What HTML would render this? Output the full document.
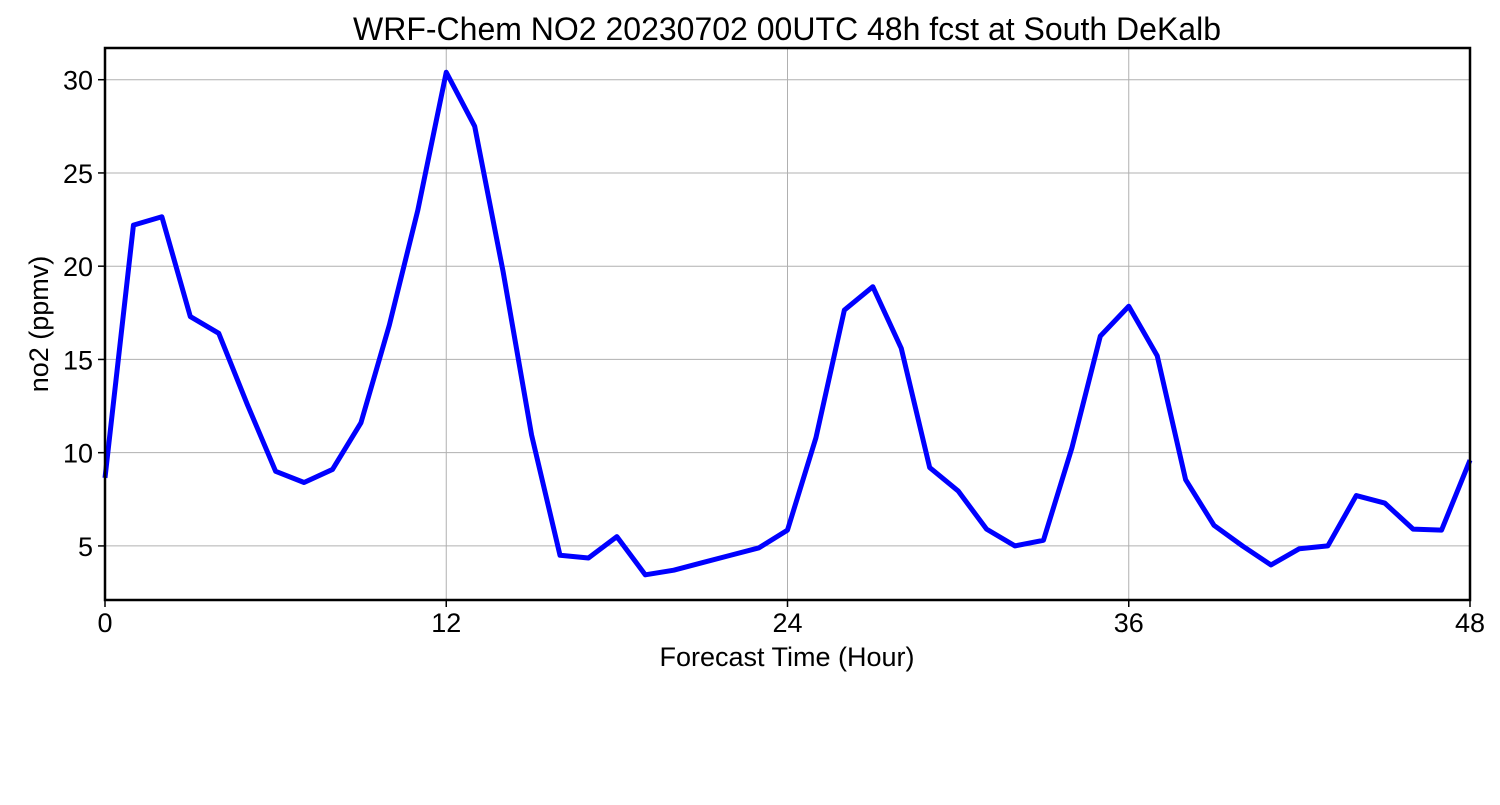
<!DOCTYPE html>
<html><head><meta charset="utf-8"><style>
body{margin:0;background:#fff}
svg text{font-family:"Liberation Sans","DejaVu Sans",sans-serif;fill:#000}
</style></head><body>
<svg id="chart" width="1500" height="800">
<rect width="1500" height="800" fill="#fff"/>
<text x="787" y="40" font-size="32" text-anchor="middle">WRF-Chem NO2  20230702 00UTC 48h fcst at South DeKalb</text>
<g id="grid"></g>
<g id="xticks"></g>
<g id="yticks"></g>
<polyline id="line" fill="none" stroke="#0000ff" stroke-width="5" stroke-linejoin="round"/>
<rect x="105" y="48" width="1365" height="552" fill="none" stroke="#000" stroke-width="2.5"/>
<text x="787" y="666" font-size="27" text-anchor="middle">Forecast Time (Hour)</text>
<text transform="translate(48,324) rotate(-90)" font-size="27" text-anchor="middle">no2  (ppmv)</text>
</svg>
<script>
const hours=[0,1,2,3,4,5,6,7,8,9,10,11,12,13,14,15,16,17,18,19,20,21,22,23,24,25,26,27,28,29,30,31,32,33,34,35,36,37,38,39,40,41,42,43,44,45,46,47,48];
const no2=[8.65,22.2,22.65,17.3,16.4,12.6,9.0,8.4,9.1,11.6,16.85,23.0,30.4,27.5,19.7,10.95,4.5,4.35,5.5,3.45,3.7,4.1,4.5,4.9,5.85,10.8,17.65,18.9,15.6,9.2,7.95,5.9,5.0,5.3,10.25,16.25,17.85,15.2,8.55,6.1,5.0,3.98,4.85,5.0,7.7,7.3,5.9,5.85,9.6];
const xTicks=[0,12,24,36,48];
const yTicks=[5,10,15,20,25,30];
const X0=105,X1=1470,Y0=600,Y1=48,xMin=0,xMax=48,yMin=2.1,yMax=31.7;
const sx=v=>X0+(v-xMin)/(xMax-xMin)*(X1-X0);
const sy=v=>Y0-(v-yMin)/(yMax-yMin)*(Y0-Y1);
const NS="http://www.w3.org/2000/svg";
const grid=document.getElementById('grid'),xt=document.getElementById('xticks'),yt=document.getElementById('yticks');
function mk(tag,attrs,parent){const e=document.createElementNS(NS,tag);for(const k in attrs)e.setAttribute(k,attrs[k]);parent.appendChild(e);return e;}
xTicks.forEach(t=>{
 const g=mk('line',{x1:sx(t),x2:sx(t),y1:Y1,y2:Y0,stroke:'#b0b0b0','stroke-width':1},grid);
 
 
 const tk=mk('line',{x1:sx(t),x2:sx(t),y1:Y0,y2:Y0+7,stroke:'#000','stroke-width':1.5},xt);
 
 
 const l=mk('text',{x:sx(t),y:632,'font-size':27,'text-anchor':'middle'},xt);
 l.textContent=t;
 
 
});
yTicks.forEach(t=>{
 const g=mk('line',{x1:X0,x2:X1,y1:sy(t),y2:sy(t),stroke:'#b0b0b0','stroke-width':1},grid);
 
 
 const tk=mk('line',{x1:X0-7,x2:X0,y1:sy(t),y2:sy(t),stroke:'#000','stroke-width':1.5},yt);
 
 
 const l=mk('text',{x:X0-12,y:sy(t)+10,'font-size':27,'text-anchor':'end'},yt);
 l.textContent=t;
 
 
});
document.getElementById('line').setAttribute('points',hours.map((h,i)=>sx(h)+','+sy(no2[i])).join(' '));
</script>
</body></html>
